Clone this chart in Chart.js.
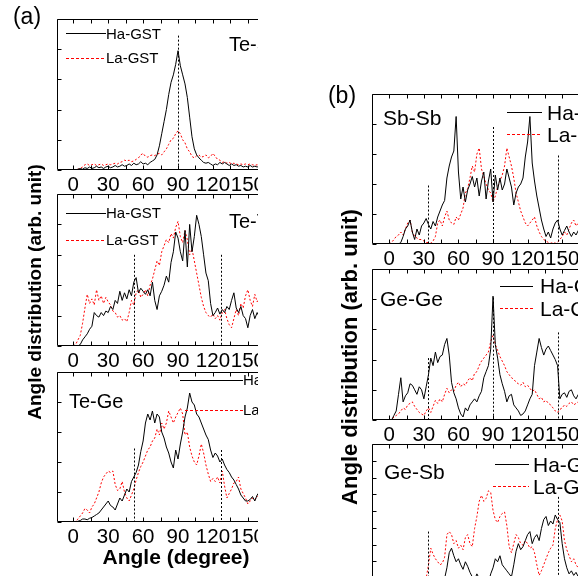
<!DOCTYPE html>
<html><head><meta charset="utf-8">
<script src="https://cdn.jsdelivr.net/npm/chart.js@4.4.1/dist/chart.umd.min.js"></script>
<style>
html,body{margin:0;padding:0;background:#fff;overflow:hidden;}
#page{position:relative;width:578px;height:576px;overflow:hidden;background:#fff;font-family:"Liberation Sans",Arial,Helvetica,sans-serif;color:#000;}
#clipA{position:absolute;left:0;top:0;width:258px;height:576px;overflow:hidden;}
#clipB{position:absolute;left:0;top:0;width:578px;height:576px;overflow:hidden;}
canvas{position:absolute;}
.lbl{position:absolute;white-space:nowrap;line-height:1;transform:translate(-50%,-50%);}
.rot{transform:translate(-50%,-50%) rotate(-90deg);}
</style></head><body>
<div id="page">
  <div id="clipA"></div>
  <div id="clipB"></div>
  <div class="lbl" style="left:27px;top:16px;font-size:23px">(a)</div>
  <div class="lbl" style="left:342px;top:95px;font-size:23px">(b)</div>
  <div class="lbl rot" style="left:34px;top:292px;font-size:19px;font-weight:bold">Angle distribution (arb. unit)</div>
  <div class="lbl rot" style="left:350px;top:357px;font-size:22px;font-weight:bold">Angle distribution (arb. unit)</div>
  <div class="lbl" style="left:176px;top:556px;font-size:21px;font-weight:bold">Angle (degree)</div>
</div>
<script>
// ---------------- data ----------------
const angles = [0,2,4,6,8,10,12,14,16,18,20,22,24,26,28,30,32,34,36,38,40,42,44,46,48,50,52,54,56,58,
  60,62,64,66,68,70,72,74,76,78,80,82,84,86,88,90,92,94,96,98,100,102,104,106,108,110,112,114,116,118,
  120,122,124,126,128,130,132,134,136,138,140,142,144,146,148,150,152,154,156,158,160,162,164,166,168,170];
const xTickValues = [0,15,30,45,60,75,90,105,120,135,150,165,180];
const seriesNames = ['Ha-GST','La-GST'];

// panel (a)
const teSbHa = [0,0,0.5,1,0.5,1.5,1,2,1,1.5, 2.5,1.5,2,1,2,2.5,1.5,2,3,2, 2.5,3.5,2.5,3,4,3,4.5,3.5,4,5.5,
  4,4.5,3.5,5,6,7,10,16,24,32, 40,50,58,63,70,79,69,63,57,48, 35,22,14,10,8,6.5,5,4.5,5,4,
  3,4,3.5,5,4,5,4,3,4,3, 3.5,2.5,3,2,2.5,2,3,2,2.5,2, 2.5,2,1.5,2,1.5,1];
const teSbLa = [0,0,0.5,1,2,3.5,4,3,3.5,4, 3,3.5,4,3,3.5,4,3.5,4,4.5,4, 5,5.5,6.5,6,6.5,5.5,6,7,8,10,
  11,9,8.5,9.5,10,9.5,10.5,11,10,12, 14,17,20,21,24,26,24,20,18,14, 12,9,8,9.5,10,8.5,9,10,8,9,
  11,9,7,6.5,5,5.5,4.5,5,4,4.5, 4,3.5,4,3.5,4,3.5,4,3.5,3,3.5, 3,3.5,3,2.5,3,2.5];
const teTeHa = [0,0,0,1,4,6,8,11,13,22, 20,19,22,20,23,22,26,24,30,28, 36,30,35,31,37,33,42,45,35,38,
  36,34,37,33,42,30,24,33,36,40, 46,42,55,62,75,71,62,56,76,52, 80,62,72,86,80,72,60,48,43,28,
  20,22,25,21,24,22,26,24,30,35, 25,22,26,20,18,12,20,24,18,22, 19,21,18,20,17,19];
const teTeLa = [0,1,4,7,15,25,34,28,31,27, 37,30,33,28,32,29,27,23,22,19, 20,17,18,16,22,30,27,35,37,32,
  34,37,33,40,44,50,56,53,62,66, 70,68,74,71,78,82,72,68,76,70, 60,64,56,48,40,32,26,22,20,19,
  21,18,20,17,22,24,18,14,12,18, 24,20,28,25,33,37,30,26,34,29, 32,28,30,26,29,27];
const teGeHa = [0,0,0.5,1,2,2,1.5,2.5,3,4, 5,6,8,10,12,14,11,10,8,12, 16,14,18,22,20,27,30,33,38,47,
  54,66,72,68,74,66,72,70,60,56, 50,46,40,36,48,42,52,60,70,76, 86,80,78,72,70,66,62,58,55,48,
  43,46,44,40,42,38,35,33,30,28, 25,22,18,16,14,14,15,17,14,18, 20,18,20,17,19,18];
const teGeLa = [0,0.5,2,4,6,9,8,6,10,12, 16,20,26,30,32,34,33,34,25,21, 22,27,20,16,14,18,22,28,33,37,
  40,44,48,50,54,56,62,58,66,62, 66,74,70,66,70,73,76,72,58,60, 50,44,40,38,44,52,46,38,32,27,
  29,27,30,26,34,24,16,19,22,26, 27,30,22,19,16,12,14,16,15,17, 18,16,18,17,16,17];

// panel (b)
const sbSbHa = [0,0,0,0,0,1,5,10,12,16, 8,3,10,6,12,14,17,13,10,15, 12,18,22,26,29,44,52,58,62,85,
  48,30,38,28,36,40,45,38,44,32, 42,48,30,42,50,28,46,36,44,36, 40,50,44,38,26,34,38,40,44,58,
  68,85,54,42,32,24,16,10,5,8, 4,10,14,16,10,6,9,12,8,5, 8,6,9,7,5,4];
const sbSbLa = [0,1,3,5,6,8,6,10,14,16, 8,5,4,3,3,2,1,1,0.5,2, 5,14,16,12,18,22,16,14,13,18,
  16,20,24,34,37,44,52,48,60,64, 50,45,40,36,34,28,32,38,42,46, 52,64,58,52,44,34,28,22,18,14,
  12,14,16,18,12,8,5,3,2,1, 0.5,1,0.5,1,3,5,8,6,10,14, 16,12,14,10,8,6];
const geGeHa = [0,0,3,6,17,28,12,16,18,24, 23,20,17,22,20,14,22,30,41,36, 45,38,42,43,50,54,43,25,18,14,
  8,4,2,8,6,10,12,14,12,16, 19,28,32,36,47,82,50,41,30,24, 19,12,16,17,10,8,6,3,4,6,
  10,14,17,36,45,54,48,43,47,49, 46,43,40,36,14,17,18,15,19,20, 16,14,17,15,12,10];
const geGeLa = [0,0,2,3,4,6,8,7,10,11, 12,9,7,5,4,3,6,8,5,9, 13,11,14,12,17,21,18,20,19,23,
  25,22,24,23,26,28,26,31,32,36, 39,41,43,45,52,56,50,46,42,39, 36,32,30,28,27,25,24,23,25,22,
  23,21,19,20,17,14,15,12,13,11, 10,8,6,5,7,8,10,9,11,12, 10,11,12,10,9,8];
const geSbHa = [0,0,0,0.5,1,1,2,1,2,3, 2,4,3,5,4,6,5,7,6,8, 7,9,8,10,11,18,28,31,26,22,
  24,20,17,22,19,15,12,10,14,11, 9,12,10,8,14,18,24,22,26,20, 18,16,14,12,20,29,34,30,32,36,
  40,42,34,38,40,36,44,50,52,46, 49,47,53,50,48,34,24,18,14,16, 13,15,12,14,11,10];
const geSbLa = [0,0.5,1,2,3,3,4,5,4,6, 7,6,8,9,10,12,11,20,31,27, 24,22,20,21,25,40,42,40,34,36,
  31,33,30,38,40,34,32,44,52,62, 66,62,64,69,68,56,50,48,52,54, 55,46,32,28,34,40,38,34,33,36,
  34,31,32,28,20,13,16,20,24,28, 31,33,44,50,53,49,36,30,26,22, 24,20,18,21,17,15];

// ---------------- drawing ----------------
const FONT = "'Liberation Sans', Arial, Helvetica, sans-serif";

function buildPlot(parentId, g, ha, la, deco) {
  const padL = 2, padT = 2, padR = 2, labelH = 32;
  const cl = g.left - padL, ct = g.top - padT;
  const cw = Math.round(padL + (g.xmax - g.xmin) * g.ppd + padR);
  const chh = padT + g.h + labelH;
  const c = document.createElement('canvas');
  c.width = cw; c.height = chh;
  c.style.left = cl + 'px'; c.style.top = ct + 'px';
  c.style.width = cw + 'px'; c.style.height = chh + 'px';
  document.getElementById(parentId).appendChild(c);

  const decoPlugin = {
    id: 'deco',
    afterDatasetsDraw(chart) {
      const ctx = chart.ctx, a = chart.chartArea, x = chart.scales.x, y = chart.scales.y;
      ctx.save();
      ctx.lineWidth = 1; ctx.strokeStyle = '#000';
      // reference dotted lines
      ctx.setLineDash([2, 2]);
      deco.refs.forEach(r => {
        const px = Math.round(x.getPixelForValue(r.x)) + 0.5;
        ctx.beginPath(); ctx.moveTo(px, y.getPixelForValue(r.top)); ctx.lineTo(px, a.bottom); ctx.stroke();
      });
      ctx.setLineDash([]);
      // frame
      const L = Math.round(a.left) + 0.5, R = Math.round(a.right) - 0.5;
      const T = Math.round(a.top) + 0.5, B = Math.round(a.bottom) - 0.5;
      ctx.beginPath(); ctx.rect(L, T, R - L, B - T); ctx.stroke();
      // inward ticks
      ctx.beginPath();
      xTickValues.forEach(v => {
        const px = Math.round(x.getPixelForValue(v)) + 0.5;
        ctx.moveTo(px, B); ctx.lineTo(px, B - 4);
        ctx.moveTo(px, T); ctx.lineTo(px, T + 4);
      });
      for (let v = 0; v <= 100.01; v += deco.ystep) {
        const py = Math.round(y.getPixelForValue(v)) + 0.5;
        ctx.moveTo(L, py); ctx.lineTo(L + 4, py);
      }
      ctx.stroke();
      // title
      ctx.fillStyle = '#000';
      ctx.textBaseline = 'alphabetic'; ctx.textAlign = 'left';
      ctx.font = deco.titleSize + 'px ' + FONT;
      ctx.fillText(deco.title, deco.tx - cl, deco.ty - ct + 0.358 * deco.titleSize);
      // legend
      const lg = deco.legend;
      ctx.font = lg.size + 'px ' + FONT;
      const items = [
        { y: lg.y1, color: '#000000', dash: [], x1: lg.x1a },
        { y: lg.y2, color: '#ff0000', dash: [3, 2], x1: lg.x1b }
      ];
      items.forEach((it, i) => {
        const yy = Math.round(it.y - ct) + 0.5;
        ctx.strokeStyle = it.color; ctx.setLineDash(it.dash);
        ctx.beginPath(); ctx.moveTo(it.x1 - cl, yy); ctx.lineTo(lg.x2 - cl, yy); ctx.stroke();
        ctx.setLineDash([]);
        ctx.fillStyle = '#000';
        ctx.fillText(seriesNames[i], lg.tx - cl, it.y - ct + 0.358 * lg.size);
      });
      ctx.restore();
    }
  };

  return new Chart(c, {
    type: 'line',
    data: {
      datasets: [
        { label: seriesNames[0], data: angles.map((v, i) => ({ x: v, y: ha[i] })),
          borderColor: '#000', borderWidth: 1, pointRadius: 0, tension: 0, fill: false },
        { label: seriesNames[1], data: angles.map((v, i) => ({ x: v, y: la[i] })),
          borderColor: '#ff0000', borderWidth: 1, borderDash: [2, 2], pointRadius: 0, tension: 0, fill: false }
      ]
    },
    options: {
      responsive: false, animation: false, devicePixelRatio: 1,
      layout: { padding: { left: padL, right: padR, top: padT, bottom: 0 } },
      plugins: { legend: { display: false }, tooltip: { enabled: false } },
      scales: {
        x: {
          type: 'linear', min: g.xmin, max: g.xmax,
          grid: { display: false, drawTicks: false }, border: { display: false },
          afterBuildTicks: s => { s.ticks = xTickValues.map(v => ({ value: v })); },
          afterFit: s => { s.height = labelH; },
          ticks: { autoSkip: false, maxRotation: 0, minRotation: 0, padding: 3, color: '#000',
            font: { family: FONT, size: 20.5 },
            callback: v => (v % 30 === 0 ? String(v) : '') }
        },
        y: { display: false, min: 0, max: 100 }
      }
    },
    plugins: [decoPlugin]
  });
}

const gA = { left: 57, xmin: -14, xmax: 195, ppd: 1.1667 };
const gB = { left: 372, xmin: -15, xmax: 195, ppd: 1.156 };

buildPlot('clipA', Object.assign({}, gA, { top: 19, h: 151 }), teSbHa, teSbLa, {
  refs: [{ x: 90, top: 89 }], ystep: 20,
  title: 'Te-Sb', titleSize: 20, tx: 229, ty: 43.5,
  legend: { size: 15, x1a: 66, x1b: 66, x2: 106, tx: 106, y1: 33.3, y2: 58 } });
buildPlot('clipA', Object.assign({}, gA, { top: 194, h: 152 }), teTeHa, teTeLa, {
  refs: [{ x: 52, top: 60 }, { x: 127, top: 60 }], ystep: 20,
  title: 'Te-Te', titleSize: 20, tx: 229, ty: 221,
  legend: { size: 15, x1a: 66, x1b: 66, x2: 106, tx: 106, y1: 212.7, y2: 240 } });
buildPlot('clipA', Object.assign({}, gA, { top: 372, h: 150 }), teGeHa, teGeLa, {
  refs: [{ x: 52, top: 49 }, { x: 127, top: 48 }], ystep: 20,
  title: 'Te-Ge', titleSize: 20, tx: 69, ty: 400.5,
  legend: { size: 15, x1a: 180, x1b: 185, x2: 243, tx: 243, y1: 380, y2: 410 } });

buildPlot('clipB', Object.assign({}, gB, { top: 94, h: 150 }), sbSbHa, sbSbLa, {
  refs: [{ x: 90, top: 78 }, { x: 34, top: 39 }, { x: 146, top: 59 }], ystep: 20,
  title: 'Sb-Sb', titleSize: 21, tx: 383, ty: 117.3,
  legend: { size: 21, x1a: 507, x1b: 507, x2: 542, tx: 547, y1: 112.3, y2: 134 } });
buildPlot('clipB', Object.assign({}, gB, { top: 269, h: 151 }), geGeHa, geGeLa, {
  refs: [{ x: 90, top: 81 }, { x: 34, top: 41 }, { x: 146, top: 58 }], ystep: 20,
  title: 'Ge-Ge', titleSize: 21, tx: 380, ty: 298.3,
  legend: { size: 21, x1a: 500, x1b: 500, x2: 533, tx: 540, y1: 285.7, y2: 308 } });
buildPlot('clipB', Object.assign({}, gB, { top: 444, h: 151 }), geSbHa, geSbLa, {
  refs: [{ x: 34, top: 42 }, { x: 146, top: 65 }], ystep: 11.1,
  title: 'Ge-Sb', titleSize: 21, tx: 384, ty: 471.7,
  legend: { size: 21, x1a: 495, x1b: 493, x2: 529, tx: 533, y1: 464.3, y2: 486 } });
</script>
</body></html>
